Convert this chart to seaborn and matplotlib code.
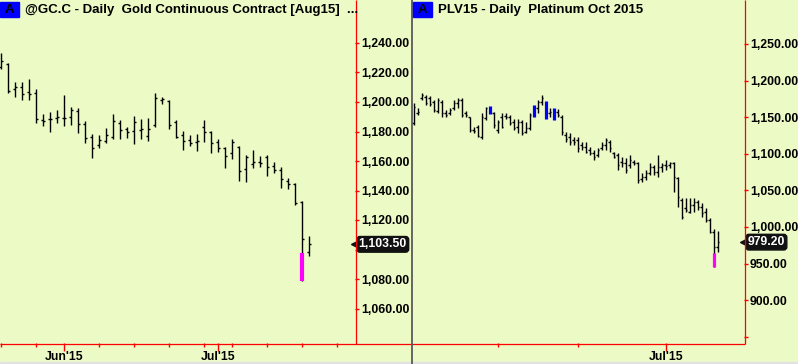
import numpy as np
import pandas as pd
import matplotlib
matplotlib.use("Agg")
import matplotlib.pyplot as plt
import seaborn as sns
from matplotlib.ticker import FixedLocator, FuncFormatter
from matplotlib.lines import Line2D
from matplotlib.patches import Rectangle

# ---------------- data ----------------
gc_title = "@GC.C - Daily  Gold Continuous Contract [Aug15]  ..."
pl_title = "PLV15 - Daily  Platinum Oct 2015"

gc_dates = [d for d in pd.bdate_range("2015-05-18", "2015-07-21")
            if d.strftime("%Y-%m-%d") not in ("2015-05-25", "2015-07-03")]
pl_dates = [d for d in pd.bdate_range("2015-04-01", "2015-07-21")
            if d.strftime("%Y-%m-%d") not in ("2015-04-03", "2015-05-25", "2015-07-03")]

gc_open = [1223.5, 1225.8, 1208.6, 1210.4, 1207.0, 1206.3, 1187.8, 1188.3, 1189.2, 1189.0,
           1189.6, 1194.1, 1185.1, 1176.5, 1170.8, 1173.6, 1176.1, 1185.6, 1181.5, 1180.5,
           1181.0, 1177.0, 1184.2, 1201.4, 1200.7, 1186.6, 1177.6, 1174.2, 1173.1, 1182.8,
           1179.9, 1172.7, 1168.8, 1165.6, 1169.5, 1154.4, 1158.0, 1159.5, 1162.5, 1156.6,
           1153.9, 1146.6, 1144.4, 1132.2, 1098.3]
gc_high = [1233.0, 1226.2, 1213.8, 1213.8, 1215.4, 1208.6, 1191.9, 1193.4, 1194.6, 1204.7,
           1196.4, 1195.7, 1187.1, 1178.1, 1177.6, 1182.2, 1191.9, 1187.8, 1183.3, 1190.5,
           1188.3, 1189.4, 1205.9, 1203.6, 1201.4, 1187.8, 1180.3, 1177.6, 1178.3, 1187.8,
           1180.3, 1174.9, 1169.7, 1174.9, 1170.2, 1164.1, 1167.5, 1163.4, 1164.1, 1159.5,
           1155.7, 1148.7, 1144.9, 1132.9, 1109.4]
gc_low = [1222.2, 1205.9, 1203.6, 1201.4, 1201.4, 1185.6, 1183.7, 1179.9, 1186.0, 1183.7,
          1184.4, 1179.2, 1172.4, 1162.2, 1168.6, 1172.0, 1174.7, 1174.7, 1175.8, 1171.5,
          1175.1, 1173.8, 1183.3, 1198.4, 1181.5, 1175.8, 1167.5, 1170.4, 1167.0, 1173.1,
          1165.6, 1166.3, 1155.5, 1161.4, 1146.6, 1146.0, 1155.1, 1156.1, 1150.0, 1151.7,
          1141.9, 1140.8, 1130.2, 1078.9, 1095.8]
gc_close = [1228.0, 1207.7, 1210.0, 1205.4, 1205.4, 1188.3, 1187.3, 1188.7, 1189.6, 1189.4,
            1194.6, 1185.1, 1175.4, 1168.6, 1174.2, 1177.6, 1187.1, 1181.0, 1179.9, 1186.6,
            1181.5, 1181.5, 1202.5, 1201.8, 1184.4, 1176.5, 1173.6, 1172.0, 1173.6, 1179.5,
            1172.4, 1169.0, 1163.6, 1173.1, 1153.2, 1162.9, 1159.5, 1158.4, 1155.7, 1153.9,
            1147.8, 1144.2, 1131.3, 1107.1, 1103.5]
gc_flag_idx = [43]
gc_flag_top = [1097.6]
gc_last = 1103.50

pl_open = [1141.6, 1155.2, 1175.7, 1178.0, 1175.7, 1171.2, 1158.9, 1171.2, 1155.2, 1155.2,
           1162.1, 1168.9, 1173.5, 1155.2, 1149.8, 1132.5, 1137.0, 1122.4, 1148.4, 1155.2,
           1155.2, 1132.5, 1150.7, 1151.6, 1150.7, 1143.8, 1137.0, 1143.8, 1130.2, 1134.7,
           1152.0, 1162.1, 1171.2, 1170.0, 1155.2, 1160.0, 1157.5, 1150.7, 1125.6, 1123.4,
           1118.8, 1118.8, 1112.0, 1109.7, 1105.1, 1100.6, 1098.3, 1107.4, 1112.0, 1116.5,
           1101.5, 1098.3, 1089.2, 1086.9, 1084.6, 1089.2, 1086.9, 1065.0, 1068.7, 1073.2,
           1081.4, 1075.5, 1082.3, 1084.6, 1084.6, 1086.9, 1066.4, 1036.8, 1025.4, 1020.8,
           1029.9, 1034.5, 1027.7, 1020.8, 1009.5, 993.5, 973.0]
pl_high = [1168.9, 1162.1, 1182.6, 1180.3, 1178.9, 1173.5, 1175.7, 1173.5, 1159.8, 1162.1,
           1173.5, 1175.7, 1175.7, 1158.9, 1150.7, 1137.0, 1139.3, 1155.2, 1164.4, 1165.3,
           1157.5, 1146.1, 1155.2, 1155.2, 1153.0, 1147.0, 1147.0, 1146.1, 1143.8, 1155.2,
           1166.6, 1173.5, 1180.3, 1172.6, 1162.1, 1162.1, 1160.7, 1153.0, 1130.2, 1127.9,
           1122.4, 1123.4, 1116.5, 1116.5, 1109.7, 1105.1, 1107.4, 1116.5, 1121.1, 1118.8,
           1102.8, 1100.6, 1096.0, 1093.7, 1098.3, 1091.5, 1089.2, 1073.2, 1077.8, 1086.9,
           1084.6, 1098.3, 1086.9, 1091.5, 1089.2, 1089.2, 1068.7, 1039.1, 1039.1, 1039.1,
           1039.1, 1036.8, 1032.2, 1025.4, 1011.7, 996.7, 994.9]
pl_low = [1139.3, 1153.0, 1173.5, 1166.6, 1165.3, 1157.5, 1155.2, 1150.7, 1150.7, 1153.0,
          1159.8, 1162.1, 1149.8, 1149.8, 1130.2, 1127.9, 1123.4, 1119.7, 1146.1, 1153.9,
          1134.7, 1128.8, 1134.7, 1147.0, 1139.3, 1132.5, 1127.9, 1125.6, 1127.9, 1132.5,
          1150.7, 1155.2, 1166.6, 1147.0, 1150.7, 1146.1, 1149.8, 1125.6, 1116.5, 1112.0,
          1112.0, 1102.8, 1105.1, 1100.6, 1098.3, 1091.5, 1096.0, 1105.1, 1105.1, 1102.8,
          1093.7, 1077.8, 1082.3, 1073.2, 1080.1, 1084.6, 1059.6, 1061.8, 1064.1, 1070.9,
          1070.9, 1068.7, 1075.5, 1077.8, 1080.1, 1048.2, 1026.8, 1010.4, 1020.8, 1018.6,
          1020.8, 1023.1, 1014.0, 1007.2, 991.2, 944.8, 966.2]
pl_close = [1164.4, 1156.6, 1180.3, 1168.9, 1168.0, 1159.8, 1173.5, 1155.2, 1153.0, 1159.8,
            1168.9, 1173.5, 1153.0, 1153.0, 1132.5, 1131.5, 1124.3, 1150.7, 1162.1, 1164.4,
            1139.3, 1143.8, 1137.0, 1150.7, 1141.6, 1134.7, 1143.8, 1128.8, 1134.7, 1153.0,
            1164.0, 1171.2, 1175.7, 1149.0, 1157.5, 1147.0, 1153.0, 1130.2, 1119.7, 1116.5,
            1116.5, 1107.4, 1109.7, 1102.8, 1100.6, 1096.0, 1105.1, 1112.0, 1118.8, 1107.4,
            1096.0, 1084.6, 1086.9, 1077.8, 1091.5, 1086.9, 1064.1, 1068.7, 1073.2, 1081.4,
            1075.5, 1082.3, 1084.6, 1083.3, 1086.9, 1068.7, 1041.4, 1014.0, 1023.1, 1029.9,
            1034.5, 1027.7, 1018.6, 1009.5, 993.5, 973.0, 979.2]
pl_blue_idx = [19, 30, 33, 35]
pl_flag_idx = [75]
pl_flag_top = [964.8]
pl_last = 979.20

gc_yticks = [1060, 1080, 1100, 1120, 1140, 1160, 1180, 1200, 1220, 1240]
pl_yticks = [850, 900, 950, 1000, 1050, 1100, 1150, 1200, 1250]

# ---------------- style ----------------
BG = "#ECFAC6"
RED = "#FF0000"
W, H = 798, 364
FS = 8.8

sns.set_theme(style="white")
plt.rcParams["font.family"] = ["Liberation Sans", "DejaVu Sans"]
plt.rcParams["font.weight"] = "bold"

fig = plt.figure(figsize=(W / 100, H / 100), dpi=100, facecolor=BG)


def px_axes(x0, x1, y0, y1):
    return fig.add_axes([x0 / W, 1 - y1 / H, (x1 - x0) / W, (y1 - y0) / H])


def fline(x0, y0, x1, y1, color, lw):
    fig.add_artist(Line2D([x0 / W, x1 / W], [1 - y0 / H, 1 - y1 / H],
                          transform=fig.transFigure, color=color, lw=lw,
                          solid_capstyle="butt", zorder=5))


def draw_ohlc(ax, o, h, l, c, tick, lw, skip=()):
    x = np.arange(len(o))
    keep = np.array([i not in skip for i in x])
    ax.vlines(x[keep], np.array(l)[keep], np.array(h)[keep], color="black", lw=lw)
    ax.hlines(np.array(o)[keep], x[keep] - tick, x[keep], color="black", lw=lw)
    ax.hlines(np.array(c)[keep], x[keep], x[keep] + tick, color="black", lw=lw)


def month_week_ticks(dates, future_end):
    full = [d for d in pd.bdate_range(dates[0], future_end)
            if d.strftime("%Y-%m-%d") not in ("2015-04-03", "2015-05-25", "2015-07-03")]
    weeks, months = [], []
    for i, d in enumerate(full):
        if i == 0 or d.isocalendar()[1] != full[i - 1].isocalendar()[1]:
            weeks.append(i)
        if i > 0 and d.month != full[i - 1].month:
            months.append(i)
    return full, weeks, months


# label hidden under the last-price marker is left blank
fmtL = FuncFormatter(lambda v, p: "" if v == 1100 else f"{v:,.2f}")

# ---------------- left panel (gold) ----------------
axL = px_axes(0, 355, 0, 343)
axL.set_facecolor(BG)
draw_ohlc(axL, gc_open, gc_high, gc_low, gc_close, 0.3, 1.0)
for i, top in zip(gc_flag_idx, gc_flag_top):
    axL.vlines(i, gc_low[i], top, color="#FF00FF", lw=3.0, zorder=3)
axL.set_xlim((0 - 1) / 7, (355 - 1) / 7)
axL.set_ylim(1240 - 300 / 1.475, 1240 + 43 / 1.475)

full, weeks, months = month_week_ticks(gc_dates, "2015-07-31")
axL.xaxis.set_major_locator(FixedLocator(months))
axL.set_xticklabels([full[m].strftime("%b'%y") for m in months])
axL.xaxis.set_minor_locator(FixedLocator([w for w in weeks if w not in months]))
axL.tick_params(axis="x", which="major", length=5.5, width=1, color=RED, pad=0.0,
                labelsize=FS, labelcolor="black", bottom=True)
axL.tick_params(axis="x", which="minor", length=3, width=1, color=RED, bottom=True)
axL.yaxis.tick_right()
axL.yaxis.set_major_locator(FixedLocator(gc_yticks))
axL.yaxis.set_major_formatter(fmtL)
axL.tick_params(axis="y", which="major", length=3, width=1, color=RED, pad=1.2,
                labelsize=FS, labelcolor="black", right=True, left=False)
for t in axL.get_xticklabels() + axL.get_yticklabels():
    t.set_fontweight("bold")
sns.despine(ax=axL, left=True, right=True, top=True, bottom=True)

# ---------------- right panel (platinum) ----------------
off = 413.7
axR = px_axes(412, 744, 0, 343)
axR.set_facecolor(BG)
draw_ohlc(axR, pl_open, pl_high, pl_low, pl_close, 0.4, 1.0, skip=pl_blue_idx)
for i in pl_blue_idx:
    axR.vlines(i, pl_low[i], pl_high[i], color="#0000FF", lw=2.3, zorder=3)
for i, top in zip(pl_flag_idx, pl_flag_top):
    axR.vlines(i, pl_low[i], top, color="#FF00FF", lw=2.3, zorder=3)
axR.set_xlim((412 - off) / 4, (744 - off) / 4)
axR.set_ylim(1250 - 299 / 0.7317, 1250 + 44 / 0.7317)

fullR, weeksR, monthsR = month_week_ticks(pl_dates, "2015-07-31")
axR.xaxis.set_major_locator(FixedLocator([m for m in monthsR if fullR[m].month == 7]))
axR.set_xticklabels(["Jul'15"])
axR.xaxis.set_minor_locator(FixedLocator([m for m in monthsR if fullR[m].month != 7]))
axR.tick_params(axis="x", which="major", length=5.5, width=1, color=RED, pad=0.0,
                labelsize=FS, labelcolor="black", bottom=True)
axR.tick_params(axis="x", which="minor", length=3, width=1, color=RED, bottom=True)
axR.yaxis.tick_right()
axR.yaxis.set_major_locator(FixedLocator(pl_yticks))
axR.yaxis.set_major_formatter(FuncFormatter(lambda v, p: "" if v < 900 else f"{v:,.2f}"))
axR.tick_params(axis="y", which="major", length=3, width=1, color=RED, pad=1.2,
                labelsize=FS, labelcolor="black", right=True, left=False)
for t in axR.get_xticklabels() + axR.get_yticklabels():
    t.set_fontweight("bold")
sns.despine(ax=axR, left=True, right=True, top=True, bottom=True)

# ---------------- frame lines ----------------
fline(0, 343.5, 744.5, 343.5, RED, 0.9)
fline(355.5, 0, 355.5, 343.5, RED, 0.9)
fline(744.5, 0, 744.5, 343.5, RED, 0.9)
fline(412, 0, 412, H, "#5A5A5A", 1.3)
fig.add_artist(Rectangle((0, 0), 1, 2 / H, transform=fig.transFigure,
                         color="#E2E2E2", zorder=4))

# ---------------- titles ----------------
for x0, title in ((0, gc_title), (413, pl_title)):
    fig.add_artist(Rectangle((x0 / W, 1 - 17 / H), 19 / W, 15 / H,
                             transform=fig.transFigure, color="#0000FF", zorder=6))
    fig.text((x0 + 9.5) / W, 1 - 10 / H, "A", ha="center", va="center",
             fontsize=9.5, fontweight="bold", color="black", zorder=7)
    fig.text((x0 + 25) / W, 1 - 10 / H, title, ha="left", va="center",
             fontsize=9.5, fontweight="bold", color="black", zorder=7)

# ---------------- last price labels ----------------
for ax, val, txt in ((axL, gc_last, f"{gc_last:,.2f}"), (axR, pl_last, f"{pl_last:,.2f}")):
    ax.plot([1.0], [val], marker="<", color="#111111", ms=6,
            transform=ax.get_yaxis_transform(), clip_on=False, zorder=9)
    ax.annotate(txt, xy=(1.0, val), xycoords=("axes fraction", "data"),
                xytext=(2.6, 0), textcoords="offset points", ha="left", va="center",
                fontsize=FS, fontweight="bold", color="white", zorder=10,
                annotation_clip=False,
                bbox=dict(boxstyle="round,pad=0.15,rounding_size=0.25",
                          fc="#111111", ec="#111111"))

fig.savefig("out.png", dpi=100, facecolor=BG)
